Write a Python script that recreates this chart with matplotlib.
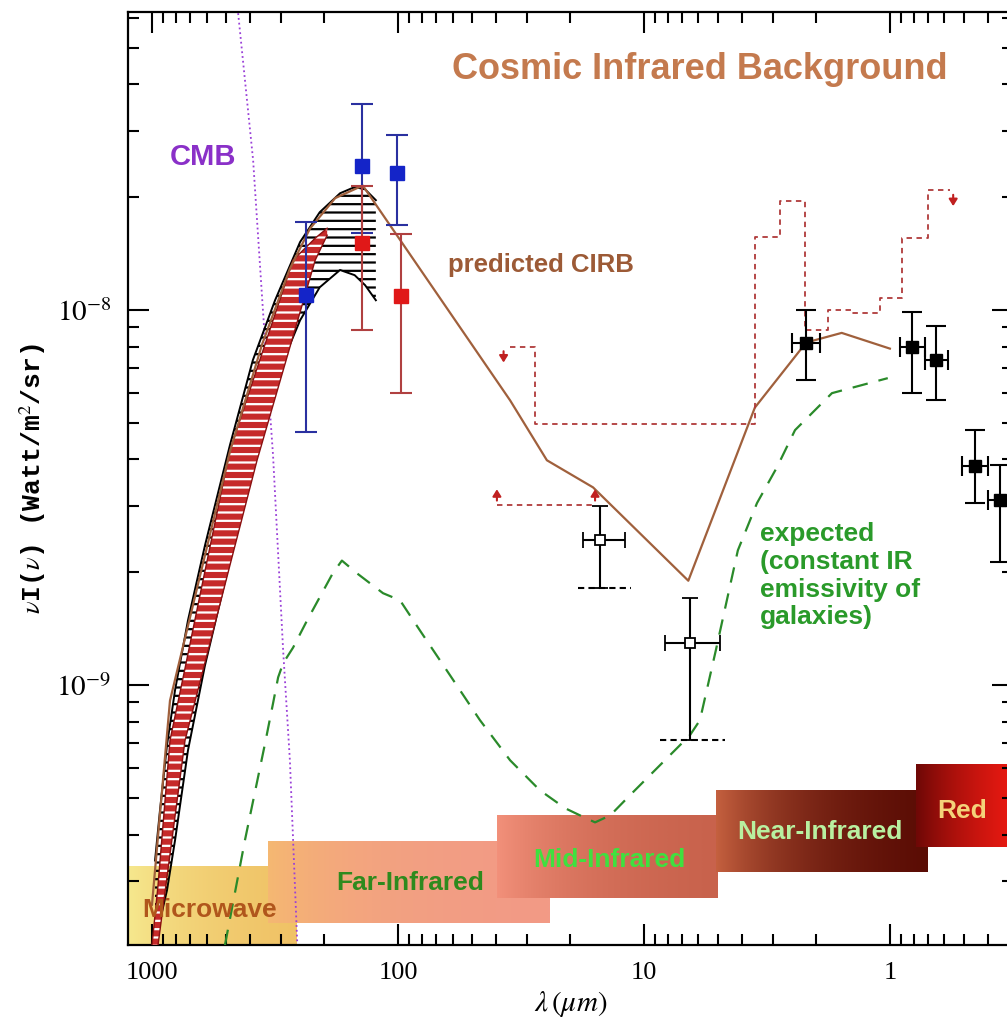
import numpy as np
import matplotlib.pyplot as plt
from matplotlib.colors import LinearSegmentedColormap

plt.rcParams['mathtext.fontset'] = 'stix'
plt.rcParams['hatch.linewidth'] = 1.6

# --- axes ---
xticks = [1000, 100, 10, 1]
xtick_labels = ['1000', '100', '10', '1']
yticks = [1e-9, 1e-8]
ytick_labels = [r'$10^{-9}$', r'$10^{-8}$']

# --- CMB curve (um, W/m2/sr) ---
cmb_lam = [470, 447, 388, 354, 322, 293, 275, 257, 250]
cmb_val = [8.0e-8, 6.24e-8, 2.51e-8, 1.0e-8, 4.1e-9, 1.24e-9, 6.3e-10, 2.09e-10, 1.6e-10]

# --- FIRAS band (black hatched) ---
firas_lam = [972, 928, 869, 806, 714, 609, 482, 389, 316, 250, 208, 172, 150, 136, 123]
firas_hi = [3.41e-10, 4.64e-10, 6.92e-10, 9.70e-10, 1.49e-9, 2.36e-9, 4.37e-9, 7.36e-9,
            1.063e-8, 1.52e-8, 1.825e-8, 2.05e-8, 2.13e-8, 2.10e-8, 1.965e-8]
firas_lo = [1.9e-10, 2.36e-10, 2.84e-10, 3.86e-10, 6.71e-10, 1.13e-9, 2.15e-9, 4.23e-9,
            6.51e-9, 9.40e-9, 1.151e-8, 1.28e-8, 1.24e-8, 1.166e-8, 1.063e-8]

# --- second FIRAS band (red) ---
red_band_lam = [1000, 945, 845, 734, 638, 482, 374, 267, 217, 194]
red_band_hi = [2.03e-10, 2.93e-10, 7.13e-10, 1.11e-9, 1.74e-9, 4.23e-9, 7.0e-9, 1.36e-8, 1.556e-8, 1.654e-8]
red_band_lo = [1.8e-10, 2.03e-10, 3.54e-10, 7.13e-10, 1.02e-9, 2.09e-9, 3.98e-9, 8.52e-9, 1.36e-8, 1.585e-8]

# --- predicted CIRB ---
pred_lam = [1000, 845, 482, 357, 275, 228, 180, 139, 35, 24.8, 16.1, 6.6, 3.54, 2.19, 1.57, 1.0]
pred_val = [2.6e-10, 9.1e-10, 4.2e-9, 8.1e-9, 1.29e-8, 1.65e-8, 1.99e-8, 2.15e-8,
            5.75e-9, 3.98e-9, 3.37e-9, 1.9e-9, 5.5e-9, 8.2e-9, 8.7e-9, 7.9e-9]

# --- expected (constant IR emissivity) ---
exp_lam = [505, 419, 347, 322, 307, 293, 267, 234, 208, 184, 169, 147, 115, 98.1, 81.4, 61.4,
           46.4, 35.0, 26.5, 20.9, 18.2, 15.8, 13.7, 11.4, 8.61, 6.50, 5.92, 5.10, 4.15, 3.47,
           2.88, 2.43, 1.72, 1.02]
exp_val = [2.03e-10, 3.86e-10, 7.0e-10, 8.95e-10, 1.05e-9, 1.145e-9, 1.26e-9, 1.49e-9, 1.717e-9,
           1.99e-9, 2.15e-9, 1.99e-9, 1.76e-9, 1.685e-9, 1.40e-9, 1.063e-9, 8.07e-10, 6.31e-10,
           5.25e-10, 4.70e-10, 4.50e-10, 4.31e-10, 4.50e-10, 5.09e-10, 6.12e-10, 7.36e-10,
           8.07e-10, 1.24e-9, 2.29e-9, 3.06e-9, 3.81e-9, 4.79e-9, 6.01e-9, 6.59e-9]

# --- upper limits (step) and lower limit ---
ul_edges = [35.1, 27.7, 3.54, 2.80, 2.22, 1.79, 1.43, 1.10, 0.893, 0.701, 0.570]
ul_vals = [8.0e-9, 4.97e-9, 1.57e-8, 1.96e-8, 8.84e-9, 1.0e-8, 9.8e-9, 1.08e-8, 1.56e-8, 2.09e-8]
ll_edges = [39.6, 15.8]
ll_vals = [3.02e-9]

# --- data points ---
blue_lam = [237, 140, 101]
blue_val = [1.10e-8, 2.42e-8, 2.32e-8]
blue_lo = [4.73e-9, 1.61e-8, 1.69e-8]
blue_hi = [1.72e-8, 3.54e-8, 2.93e-8]

red_lam = [140, 97]
red_val = [1.51e-8, 1.09e-8]
red_lo = [8.84e-9, 6.01e-9]
red_hi = [2.15e-8, 1.60e-8]

open_lam = [15.1, 6.5]
open_val = [2.44e-9, 1.30e-9]
open_lo = [1.815e-9, 7.13e-10]
open_hi = [3.0e-9, 1.706e-9]
open_lmin = [11.9, 4.91]
open_lmax = [17.7, 8.21]

fill_lam = [2.19, 0.815, 0.65, 0.451, 0.357]
fill_val = [8.17e-9, 7.97e-9, 7.36e-9, 3.84e-9, 3.11e-9]
fill_lo = [6.5e-9, 6.0e-9, 5.75e-9, 3.06e-9, 2.13e-9]
fill_hi = [1.0e-8, 9.9e-9, 9.1e-9, 4.79e-9, 3.86e-9]
fill_lmin = [1.93, 0.721, 0.581, 0.40, 0.326]
fill_lmax = [2.49, 0.911, 0.721, 0.51, 0.40]

# --- spectral bands ---
band_names = ['Microwave', 'Far-Infrared', 'Mid-Infrared', 'Near-Infrared', 'Red']
band_long = [1300, 337, 39.6, 5.10, 0.784]
band_short = [255, 23.9, 5.0, 0.70, 0.30]
band_lo = [1.9e-10, 2.33e-10, 2.71e-10, 3.17e-10, 3.70e-10]
band_hi = [3.31e-10, 3.86e-10, 4.53e-10, 5.25e-10, 6.19e-10]
band_c0 = ['#f6ea90', '#f5b872', '#f2907a', '#c4603f', '#6e0806']
band_c1 = ['#f0c266', '#f29a86', '#c8624c', '#5a0c04', '#ee1a12']
band_txt = ['#b0561c', '#2e8a1e', '#3fe03f', '#b8f0a0', '#f4d27a']
band_pos = [(0.0927, 0.0375), (0.3186, 0.0665), (0.5435, 0.0911), (0.7819, 0.1211), (0.9424, 0.1436)]

fig = plt.figure(figsize=(10.07, 10.31), dpi=100)
ax = fig.add_axes([0.1271, 0.0834, 0.8788, 0.9050])
ax.set_xscale('log')
ax.set_yscale('log')

grad = np.linspace(0, 1, 256).reshape(1, -1)
for i in range(len(band_names)):
    cm = LinearSegmentedColormap.from_list('b%d' % i, [band_c0[i], band_c1[i]])
    ax.imshow(grad, cmap=cm, aspect='auto', interpolation='bilinear', zorder=1,
              extent=(band_long[i], band_short[i], band_lo[i], band_hi[i]))
    ax.text(band_pos[i][0], band_pos[i][1], band_names[i], transform=ax.transAxes,
            ha='center', va='center', fontsize=19, fontweight='bold', color=band_txt[i],
            family='Liberation Sans', zorder=6)

ax.plot(cmb_lam, cmb_val, ':', color='#9a40d8', lw=1.3, zorder=2)
ax.plot(exp_lam, exp_val, '--', color='#2a8a2a', lw=1.6, dashes=(7, 5), zorder=3)

ax.fill_between(firas_lam, firas_lo, firas_hi, facecolor='none', edgecolor='black',
                hatch='--', linewidth=0, zorder=3)
ax.plot(firas_lam, firas_hi, color='black', lw=1.4, zorder=3)
ax.plot(firas_lam, firas_lo, color='black', lw=1.4, zorder=3)
ax.fill_between(red_band_lam, red_band_lo, red_band_hi, facecolor='#c62a2a', edgecolor='white',
                hatch='--', linewidth=0, zorder=3)
ax.plot(red_band_lam, red_band_hi, color='#8a1010', lw=1.0, zorder=3)
ax.plot(red_band_lam, red_band_lo, color='#8a1010', lw=1.0, zorder=3)

ax.plot(pred_lam, pred_val, '-', color='#a0603c', lw=1.6, zorder=4)

ax.plot(ul_edges, ul_vals + [ul_vals[-1]], drawstyle='steps-post', ls='--', dashes=(3, 2.5),
        color='#b03a3a', lw=1.3, zorder=4)
ax.plot(ll_edges, ll_vals + [ll_vals[-1]], drawstyle='steps-post', ls='--', dashes=(3, 2.5),
        color='#b03a3a', lw=1.3, zorder=4)
arrow_kw = dict(arrowstyle='-|>,head_width=0.25,head_length=0.4', color='#c02020', lw=1.5)
for lam, val, sgn in [(ul_edges[0] * 1.06, ul_vals[0], -1), (ul_edges[-1] * 0.97, ul_vals[-1], -1),
                      (ll_edges[0], ll_vals[0], 1), (ll_edges[1], ll_vals[0], 1)]:
    ax.annotate('', xy=(lam, val * 10 ** (sgn * 0.05)), xytext=(lam, val * 10 ** (sgn * 0.005)),
                arrowprops=arrow_kw, zorder=5)


def yerr(v, lo, hi):
    v = np.array(v)
    return [v - np.array(lo), np.array(hi) - v]


ax.errorbar(blue_lam, blue_val, yerr=yerr(blue_val, blue_lo, blue_hi), fmt='s', ms=10,
            color='#1424c8', ecolor='#2a30a0', elinewidth=1.5, capsize=8, capthick=1.5, zorder=5)
ax.errorbar(red_lam, red_val, yerr=yerr(red_val, red_lo, red_hi), fmt='s', ms=10,
            color='#e01818', ecolor='#b04040', elinewidth=1.5, capsize=8, capthick=1.5, zorder=5)
ax.errorbar(open_lam, open_val, yerr=yerr(open_val, open_lo, open_hi),
            xerr=yerr(open_lam, open_lmin, open_lmax), fmt='s', ms=7, mfc='white', mec='black',
            mew=1.3, color='black', elinewidth=1.5, capsize=6, capthick=1.5, zorder=5)
for i in range(len(open_lam)):
    ax.plot([open_lmax[i] * 1.05, open_lmin[i] * 0.95], [open_lo[i], open_lo[i]], '--',
            color='black', lw=1.5, dashes=(3, 2), zorder=5)
ax.errorbar(fill_lam, fill_val, yerr=yerr(fill_val, fill_lo, fill_hi),
            xerr=yerr(fill_lam, fill_lmin, fill_lmax), fmt='s', ms=9, color='black',
            elinewidth=1.5, capsize=7, capthick=1.5, zorder=5)

ax.text(0.6463, 0.9378, 'Cosmic Infrared Background', transform=ax.transAxes, ha='center',
        va='center', fontsize=26, fontweight='bold', color='#c47a4e', family='Liberation Sans')
ax.text(0.0847, 0.8446, 'CMB', transform=ax.transAxes, ha='center', va='center', fontsize=21,
        fontweight='bold', color='#8a30c8', family='Liberation Sans')
ax.text(0.4667, 0.7289, 'predicted CIRB', transform=ax.transAxes, ha='center', va='center',
        fontsize=18.5, fontweight='bold', color='#9c5a36', family='Liberation Sans')
ax.text(0.7141, 0.4534, 'expected\n(constant IR\nemissivity of\ngalaxies)', transform=ax.transAxes,
        ha='left', va='top', fontsize=19, fontweight='bold', color='#2a9a2a',
        family='Liberation Sans', linespacing=1.2)

ax.set_xlim(1252, 0.316)
ax.set_ylim(2.03e-10, 6.24e-8)
ax.set_xticks(xticks)
ax.set_xticklabels(xtick_labels, family='Liberation Serif', fontsize=19)
ax.set_yticks(yticks)
ax.set_yticklabels(ytick_labels, fontsize=21)
ax.tick_params(which='both', direction='in', top=True, right=True, width=1.5)
ax.tick_params(which='major', length=15, pad=12)
ax.tick_params(which='minor', length=8)
for s in ax.spines.values():
    s.set_linewidth(1.6)

ax.set_xlabel(r'$\lambda\,(\mu m)$', fontsize=21, labelpad=4)
ax.set_ylabel(r'$\nu$I($\nu$) (Watt/m$^2$/sr)', fontsize=19, family='Liberation Mono',
              fontweight='bold', labelpad=6)

fig.savefig('out.png', dpi=100)
